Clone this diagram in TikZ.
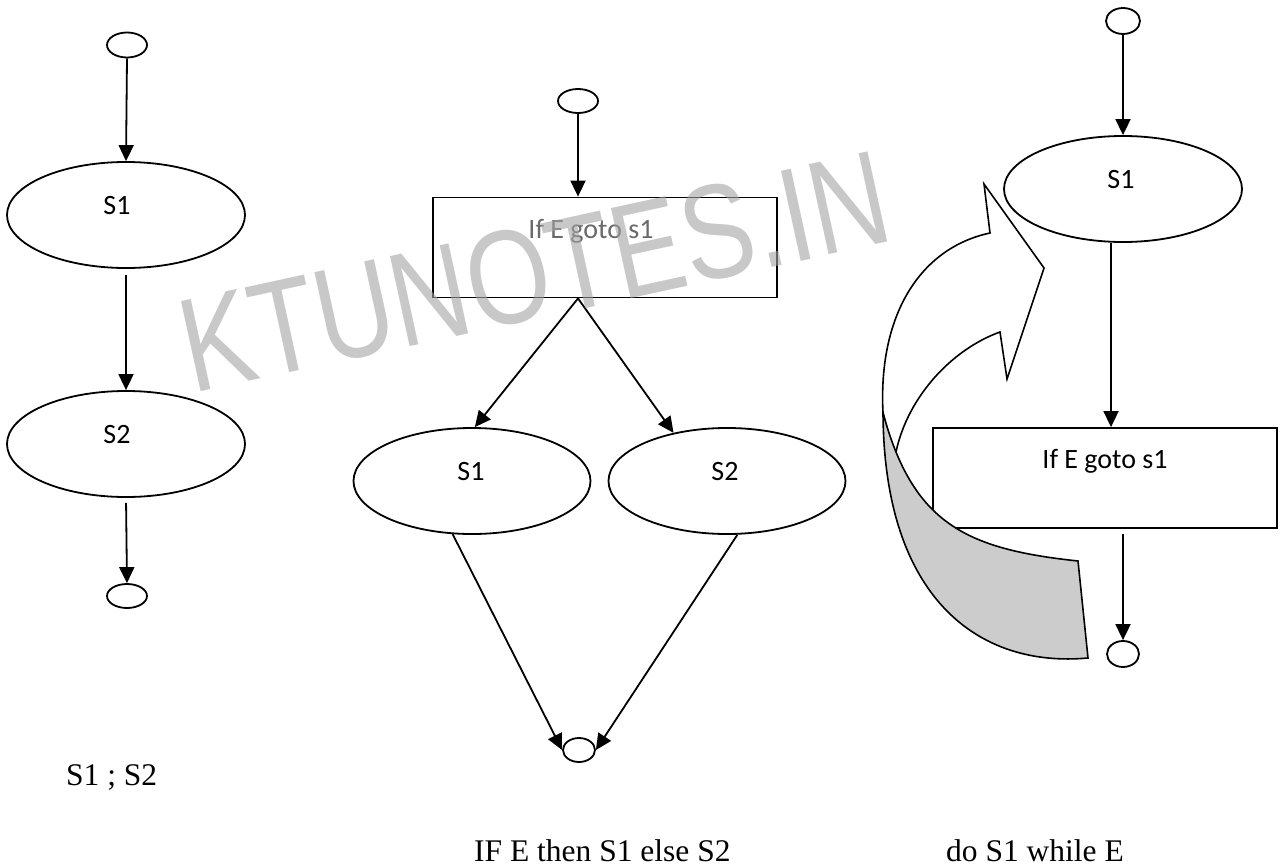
\documentclass[tikz,border=0pt]{standalone}
\usepackage{fontspec}
\setmainfont{Liberation Serif}
\newfontfamily\calibrifont{Carlito}
\newfontfamily\marcafont{Liberation Sans}
\usepackage{xcolor}
\usepackage{tikz}
\usetikzlibrary{arrows.meta,shapes.geometric}
\definecolor{GrisFlecha}{RGB}{204,204,204}
\definecolor{GrisTexto}{RGB}{105,105,105}
\definecolor{GrisMarca}{RGB}{163,163,163}

\begin{document}
\begin{tikzpicture}[x=1pt,y=-1pt,>={Triangle[length=16pt,width=15pt]},
  bloque/.style={draw,ellipse,line width=1.8pt,minimum width=238pt,minimum height=106pt,inner sep=0pt},
  extremo/.style={draw,ellipse,line width=1.8pt,inner sep=0pt},
  prueba/.style={draw,rectangle,line width=1.8pt,minimum width=344pt,minimum height=100pt,inner sep=0pt},
  etiq/.style={anchor=base,inner sep=0pt,font=\calibrifont\fontsize{28}{33}\selectfont},
  flujo/.style={->,line width=1.8pt},
  pie/.style={anchor=base west,inner sep=0pt,font=\fontsize{31.5}{38}\selectfont}]
  \useasboundingbox (0,0) rectangle (1282,867);

  % S1 ; S2
  \node[extremo,minimum width=40pt,minimum height=25pt] (ltop) at (127,45) {};
  \node[bloque] (ls1) at (126,215) {};
  \node[etiq] (ls1t) at ([shift={(-9,-1)}]ls1.center) {S1};
  \node[bloque] (ls2) at (126,444) {};
  \node[etiq] (ls2t) at ([shift={(-9,-1)}]ls2.center) {S2};
  \node[extremo,minimum width=40pt,minimum height=24pt] (lend) at (127,596) {};
  \draw[flujo] (ltop.south) -- (ls1.north);
  \draw[flujo,shorten <=6pt] (ls1.south) -- (ls2.north);
  \draw[flujo,shorten <=5pt] (ls2.south) -- (lend.north);
  \node[pie] (cseq) at (66,785) {S1 ; S2};

  % IF E then S1 else S2
  \node[extremo,minimum width=40pt,minimum height=24pt] (mtop) at (578,101) {};
  \node[prueba] (mbox) at (605,247.5) {};
  \node[etiq,text=GrisTexto] (mboxt) at ([shift={(-14,-9)}]mbox.center) {If E goto s1};
  \node[bloque,minimum width=237pt] (ms1) at (472,481) {};
  \node[etiq] (ms1t) at ([shift={(-1,-1)}]ms1.center) {S1};
  \node[bloque,minimum width=237pt] (ms2) at (727,481) {};
  \node[etiq] (ms2t) at ([shift={(-2,-1)}]ms2.center) {S2};
  \node[extremo,minimum width=32pt,minimum height=24pt] (mend) at (579,750) {};
  \draw[flujo] (mtop.south) -- (mtop.south |- mbox.north);
  \draw[flujo] (mtop.south |- mbox.south) -- (ms1.87);
  \draw[flujo] (mtop.south |- mbox.south) -- (ms2.138);
  \draw[flujo] (ms1.250) -- (mend.west);
  \draw[flujo] (ms2.281) -- (mend.east);
  \node[pie] (cif) at (474,861) {IF E then S1 else S2};

  % do S1 while E
  \node[extremo,minimum width=34pt,minimum height=26pt] (rtop) at (1123,21) {};
  \node[bloque] (rs1) at (1123,189) {};
  \node[etiq] (rs1t) at ([shift={(-2,-1)}]rs1.center) {S1};
  \node[prueba] (rbox) at (1105,478) {};
  \node[etiq] (rboxt) at ([shift={(0,-10)}]rbox.center) {If E goto s1};
  \node[extremo,minimum width=32pt,minimum height=26pt] (rend) at (1123,654) {};
  \coordinate (rsal) at ([xshift=-12pt]rs1.south);
  \draw[flujo] (rtop.south) -- (rs1.north);
  \draw[flujo] (rsal) -- (rsal |- rbox.north);
  \draw[flujo,shorten <=5pt] (rend.north |- rbox.south) -- (rend.north);
  % flecha curva de retorno
  \draw[line width=1.6pt,fill=white]
    (990,233) .. controls (920,248) and (878,315) .. (883,413)
    -- (895,457) .. controls (905,400) and (950,350) .. (1000,332)
    -- (1007,379) -- (1044,268) -- (984,184) -- cycle;
  \draw[line width=1.6pt,fill=GrisFlecha]
    (883,413) .. controls (913,523) and (965,549) .. (1078,561)
    -- (1088,658) .. controls (980,668) and (884,600) .. (883,413) -- cycle;
  \node[pie] (cdo) at (946,861) {do S1 while E};

  % marca de agua
  \node[text=GrisMarca,text opacity=0.6,anchor=base west,rotate=12.3,xscale=0.8,inner sep=0pt,
    font=\marcafont\fontsize{134}{160}\selectfont] (marca) at (192,394) {KTUNOTES.IN};
\end{tikzpicture}
\end{document}
